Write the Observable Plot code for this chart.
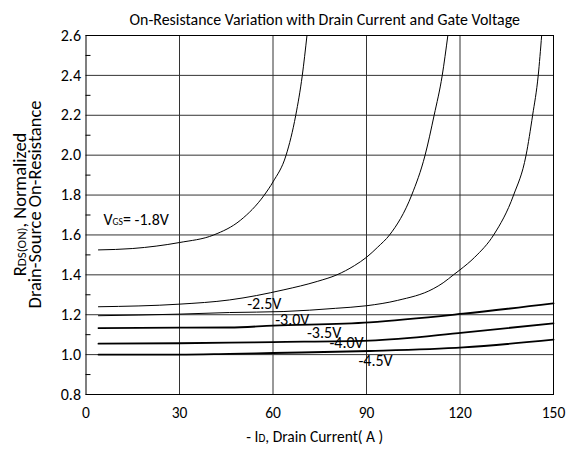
<!DOCTYPE html>
<html><head><meta charset="utf-8">
<script src="https://cdn.jsdelivr.net/npm/d3@7"></script>
<script src="https://cdn.jsdelivr.net/npm/@observablehq/plot@0.6"></script>
<style>body{margin:0;background:#fff} svg{overflow:visible}</style>
</head><body><div id="chart"></div>
<script>
// Drain current (A) and normalized RDS(ON)
const id18 = [4, 15, 30, 41, 49.5, 57.2, 60, 64.2, 67.3, 69.4, 70.9];
const r18  = [1.525, 1.532, 1.562, 1.6, 1.673, 1.8, 1.866, 2.0, 2.2, 2.4, 2.6];
const id25 = [4, 30, 46, 63.5, 74.2, 80.5, 86.1, 90, 93.6, 97.4, 104.5, 108.8, 111.7, 114.3, 116.1];
const r25  = [1.24, 1.253, 1.274, 1.325, 1.367, 1.4, 1.446, 1.488, 1.539, 1.6, 1.8, 2.0, 2.2, 2.4, 2.6];
const id30 = [4, 30, 46, 63.5, 80, 90, 100, 111.4, 114.6, 117.9, 120, 124.7, 130.8, 137.2, 141.2, 143.3, 145.1, 146.2];
const r30  = [1.195, 1.203, 1.211, 1.216, 1.232, 1.245, 1.272, 1.33, 1.36, 1.4, 1.425, 1.488, 1.6, 1.8, 2.0, 2.2, 2.4, 2.6];
const id35 = [4, 30, 46, 60, 91, 121, 150];
const r35  = [1.133, 1.135, 1.136, 1.145, 1.162, 1.205, 1.257];
const id40 = [4, 30, 46, 60, 91, 121, 150];
const r40  = [1.055, 1.057, 1.06, 1.063, 1.07, 1.11, 1.157];
const id45 = [4, 30, 46, 60, 91, 121, 150];
const r45  = [1.0, 1.0, 1.004, 1.008, 1.018, 1.036, 1.075];

const labelText = ["VGS= -1.8V", "-2.5V", "-3.0V", "-3.5V", "-4.0V", "-4.5V"];
const labelX = [5.6, 51.7, 60.7, 70.9, 78.1, 87.4];
const labelY = [1.678, 1.255, 1.176, 1.109, 1.06, 0.971];

const xTicks = [0, 30, 60, 90, 120, 150];
const yTicks = [0.8, 1.0, 1.2, 1.4, 1.6, 1.8, 2.0, 2.2, 2.4, 2.6];
const yMinor = [0.9, 1.1, 1.3, 1.5, 1.7, 1.9, 2.1, 2.3, 2.5];

const titleText = "On-Resistance Variation with Drain Current and Gate Voltage";
const xLabel = "- ID, Drain Current( A )";
const yLabel1 = "RDS(ON), Normalized";
const yLabel2 = "Drain-Source On-Resistance";

const series = (vgs, ids, rs) => ids.map((id, i) => ({vgs, id, r: rs[i]}));
const thin = [...series("-1.8", id18, r18), ...series("-2.5", id25, r25), ...series("-3.0", id30, r30)];
const thick = [...series("-3.5", id35, r35), ...series("-4.0", id40, r40), ...series("-4.5", id45, r45)];
const labels = labelText.map((t, i) => ({t, x: labelX[i], y: labelY[i]}));

const FONT = 'Carlito, Calibri, Lato, sans-serif';

const chart = Plot.plot({
  width: 572, height: 456,
  marginTop: 35, marginBottom: 62, marginLeft: 85.5, marginRight: 19,
  style: {fontFamily: FONT, fontSize: "16px", background: "#fff", color: "#000"},
  x: {domain: [0, 150]},
  y: {domain: [0.8, 2.6]},
  marks: [
    Plot.gridX(xTicks.slice(1, -1), {stroke: "#333", strokeOpacity: 1}),
    Plot.gridY(yTicks, {stroke: "#333", strokeOpacity: 1}),
    Plot.ruleY(yMinor, {x1: 0, x2: 1.6, stroke: "#000"}),
    Plot.frame({stroke: "#000"}),
    Plot.axisX(xTicks, {tickSize: 0, tickPadding: 12, fontSize: 15.5, label: null}),
    Plot.axisY(yTicks, {tickSize: 0, tickPadding: 5, tickFormat: d3.format(".1f"), fontSize: 16, label: null}),
    Plot.line(thin, {x: "id", y: "r", z: "vgs", curve: "monotone-x", stroke: "#000", strokeWidth: 1}),
    Plot.line(thick, {x: "id", y: "r", z: "vgs", curve: "monotone-x", stroke: "#000", strokeWidth: 1.8}),
    Plot.text(labels, {x: "x", y: "y", text: "t", textAnchor: "start", fontSize: 16, fill: "#000"}),
    Plot.text([titleText], {frameAnchor: "top", dy: -22, dx: 5, fontSize: 15.9, fill: "#000"}),
    Plot.text([xLabel], {frameAnchor: "bottom", dy: 47.5, dx: -5, fontSize: 15.5, fill: "#000"}),
    Plot.text([yLabel1], {frameAnchor: "left", textAnchor: "middle", dx: -66, dy: -10.5, rotate: -90, fontSize: 18.5, fill: "#000"}),
    Plot.text([yLabel2], {frameAnchor: "left", textAnchor: "middle", dx: -50.5, dy: -10.5, rotate: -90, fontSize: 18.5, fill: "#000"})
  ]
});
document.getElementById("chart").append(chart);

// subscripts
const subs = {
  "VGS= -1.8V": ["V", "GS", "= -1.8V", "0.6em"],
  "RDS(ON), Normalized": ["R", "DS(ON)", ", Normalized", "0.7em"],
  "- ID, Drain Current( A )": ["- I", "D", ", Drain Current( A )", "0.72em"]
};
d3.select(chart).selectAll("text").each(function () {
  const s = subs[this.textContent];
  if (!s) return;
  const el = d3.select(this).text(null);
  el.append("tspan").text(s[0]);
  el.append("tspan").attr("font-size", s[3]).text(s[1]);
  el.append("tspan").text(s[2]);
});
</script></body></html>
